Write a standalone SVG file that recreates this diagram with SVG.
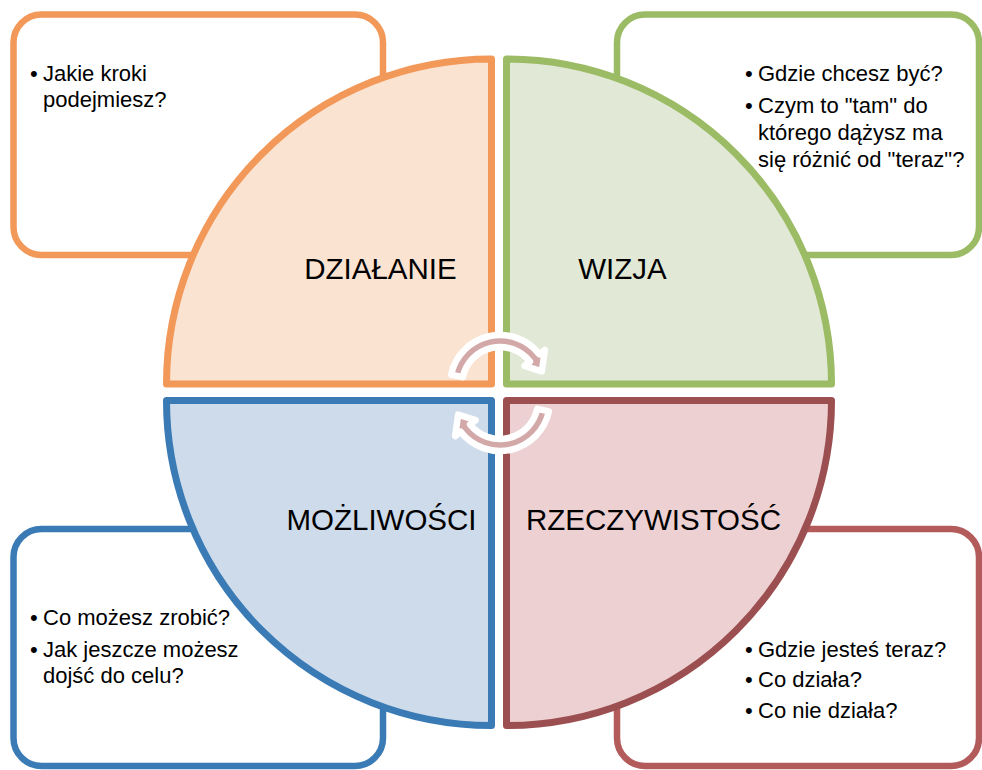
<svg xmlns="http://www.w3.org/2000/svg" xmlns:xlink="http://www.w3.org/1999/xlink" width="982" height="770" viewBox="0 0 982 770">
<style>
.box{fill:#FFFFFF;stroke-width:6.5}
.q{stroke-width:7;stroke-linejoin:round}
.lbl{font-family:"Liberation Sans",Arial,sans-serif;font-size:29.5px;fill:#000;text-anchor:middle}
.t{font-family:"Liberation Sans",Arial,sans-serif;font-size:22px;fill:#000}
.arr{fill:#D3A8A8;stroke:#FFFFFF;stroke-width:6.5;stroke-linejoin:round}
</style>
<defs>
<path id="carrow" class="arr" d="M451.1,374.6 A50,50 0 0 1 539.4,354.2 L544.9,349.9 L541.8,371.4 L524.4,365.9 L529.9,361.6 A38,38 0 0 0 462.8,377.1 Z"/>
</defs>
<rect width="982" height="770" fill="#FFFFFF"/>
<g id="box-dzialanie"><rect class="box" x="13.5" y="14.5" width="369.5" height="240.5" rx="28" stroke="#F29859"/></g>
<g id="box-wizja"><rect class="box" x="617" y="14.5" width="362" height="240.5" rx="28" stroke="#9BBB64"/></g>
<g id="box-mozliwosci"><rect class="box" x="13.5" y="529" width="369.5" height="237" rx="28" stroke="#3A7BB5"/></g>
<g id="box-rzeczywistosc"><rect class="box" x="617" y="529" width="362" height="237" rx="28" stroke="#B35A5A"/></g>
<g id="dzialanie">
<path class="q" d="M491.5,59 L491.5,384 L166.5,384 A325,325 0 0 1 491.5,59 Z" fill="#FBE3D2" stroke="#F29859"/>
<text class="lbl" x="380.5" y="279">DZIAŁANIE</text>
</g>
<g id="wizja">
<path class="q" d="M506.5,59 A325,325 0 0 1 831.5,384 L506.5,384 Z" fill="#E1E9D6" stroke="#9BBB64"/>
<text class="lbl" x="622.5" y="279">WIZJA</text>
</g>
<g id="mozliwosci">
<path class="q" d="M166.5,400.5 L491.5,400.5 L491.5,725.5 A325,325 0 0 1 166.5,400.5 Z" fill="#CEDBEA" stroke="#3A7BB5"/>
<text class="lbl" x="381.5" y="530">MOŻLIWOŚCI</text>
</g>
<g id="rzeczywistosc">
<path class="q" d="M506.5,400.5 L831.5,400.5 A325,325 0 0 1 506.5,725.5 Z" fill="#EDD1D2" stroke="#9C4F50"/>
<text class="lbl" x="653.5" y="530">RZECZYWISTOŚĆ</text>
</g>
<g id="connectors">
<use xlink:href="#carrow"/>
<use xlink:href="#carrow" transform="rotate(180 500 393)"/>
</g>
<g id="text-dzialanie">
<text class="t" x="30" y="81">•</text>
<text class="t" x="43" y="81">Jakie kroki</text>
<text class="t" x="43" y="107">podejmiesz?</text>
</g>
<g id="text-wizja">
<text class="t" x="745" y="81">•</text>
<text class="t" x="758" y="81">Gdzie chcesz być?</text>
<text class="t" x="745" y="113">•</text>
<text class="t" x="758" y="113">Czym to "tam" do</text>
<text class="t" x="758" y="140">którego dążysz ma</text>
<text class="t" x="758" y="167">się różnić od "teraz"?</text>
</g>
<g id="text-mozliwosci">
<text class="t" x="30" y="625">•</text>
<text class="t" x="43" y="625">Co możesz zrobić?</text>
<text class="t" x="30" y="657">•</text>
<text class="t" x="43" y="657">Jak jeszcze możesz</text>
<text class="t" x="43" y="683">dojść do celu?</text>
</g>
<g id="text-rzeczywistosc">
<text class="t" x="745" y="657">•</text>
<text class="t" x="758" y="657">Gdzie jesteś teraz?</text>
<text class="t" x="745" y="687">•</text>
<text class="t" x="758" y="687">Co działa?</text>
<text class="t" x="745" y="718">•</text>
<text class="t" x="758" y="718">Co nie działa?</text>
</g>
</svg>
